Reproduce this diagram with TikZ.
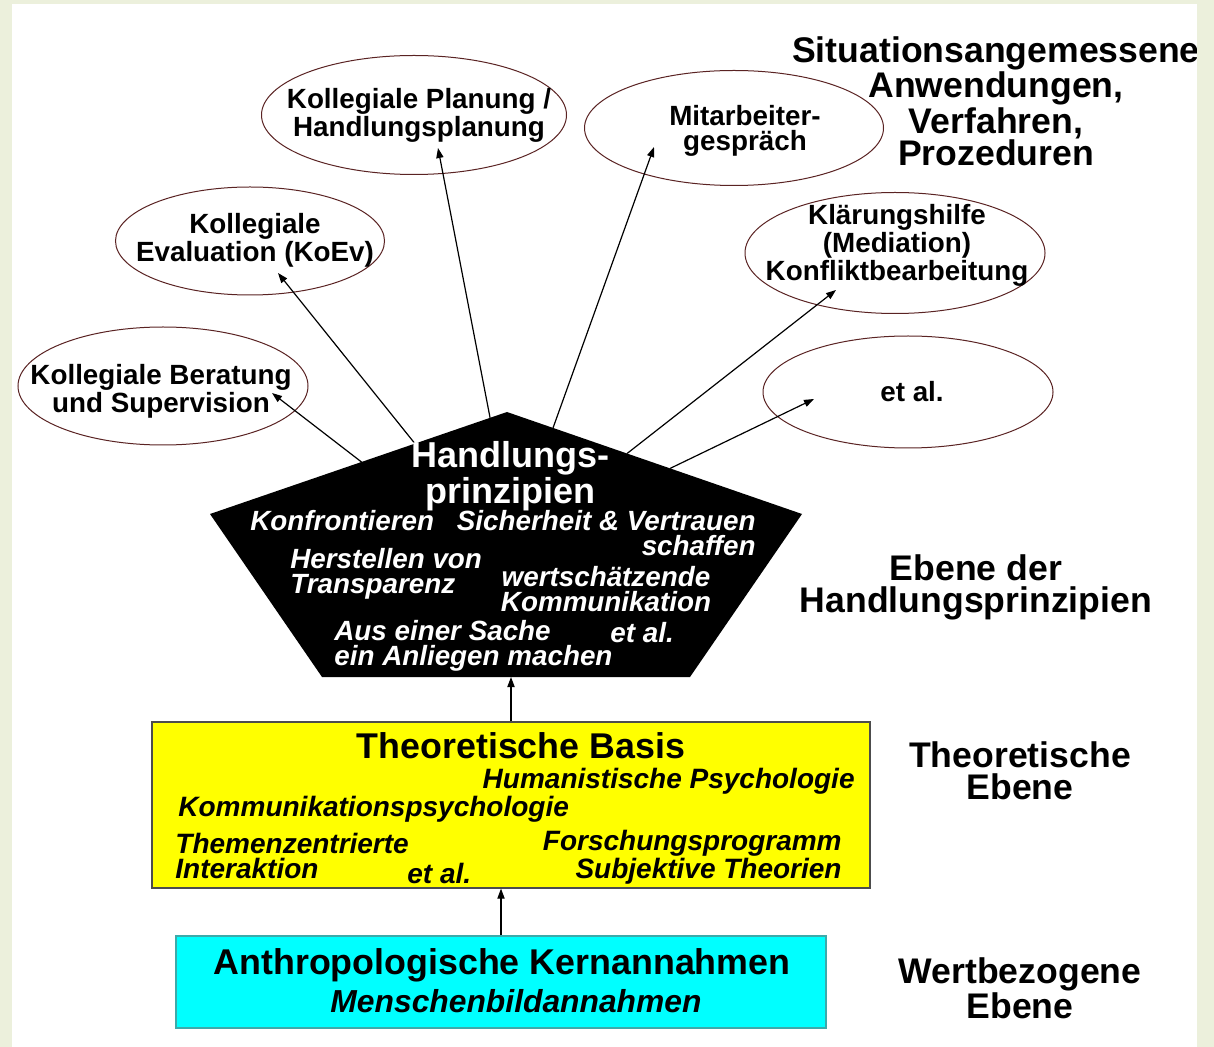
\documentclass[tikz,border=0pt]{standalone}
\usepackage{fontspec}
\setmainfont{Liberation Sans}
\usetikzlibrary{shapes.geometric,arrows.meta,calc}
\definecolor{framegreen}{RGB}{236,240,220}
\definecolor{bubbleline}{RGB}{90,35,35}
\definecolor{boxyellow}{RGB}{255,255,0}
\definecolor{boxcyan}{RGB}{0,255,255}
\definecolor{cyanline}{RGB}{60,170,170}

\begin{document}
\begin{tikzpicture}[x=0.5pt, y=-0.5pt,
  bubble/.style={ellipse, draw=bubbleline, line width=0.5pt, inner sep=0pt},
  bubble text/.style={align=center, inner sep=0pt, font=\bfseries\fontsize{13.9}{12.2}\selectfont},
  level text/.style={align=center, inner sep=0pt, font=\bfseries\fontsize{17.8}{16}\selectfont},
  item/.style={text=white, inner sep=0pt, font=\bfseries\itshape\fontsize{13.9}{12.4}\selectfont},
  basis item/.style={inner sep=0pt, font=\bfseries\itshape\fontsize{14}{12.5}\selectfont},
  link/.style={-{Triangle[length=5pt,width=3.6pt]}, line width=0.6pt}]
\useasboundingbox (0,0) rectangle (1214,1047);
\fill[framegreen] (0,0) rectangle (1214,1047);
\fill[white] (12,4) rectangle (1197,1047);

% bubbles
\node[bubble, minimum width=145pt, minimum height=59pt] (e1) at (163,386) {};
\node[bubble, minimum width=134.5pt, minimum height=54pt] (e2) at (250,241) {};
\node[bubble, minimum width=152.5pt, minimum height=59.5pt] (e3) at (414,115) {};
\node[bubble, minimum width=149.5pt, minimum height=57.5pt] (e4) at (734,128) {};
\node[bubble, minimum width=150pt, minimum height=60.5pt] (e5) at (895,253) {};
\node[bubble, minimum width=145pt, minimum height=56pt] (e6) at (908,392) {};
\node[bubble text] (t1) at (161,391) {Kollegiale Beratung\\und Supervision};
\node[bubble text] (t2) at (255,240) {Kollegiale\\Evaluation (KoEv)};
\node[bubble text] (t3) at (419,115) {Kollegiale Planung /\\Handlungsplanung};
\node[bubble text] (t4) at (745,131) {Mitarbeiter-\\gespräch};
\node[bubble text] (t5) at (897,245) {Klärungshilfe\\(Mediation)\\Konfliktbearbeitung};
\node[bubble text] (t6) at (912,392) {et al.};

% pentagon
\coordinate (p1) at (507,412);
\coordinate (p2) at (802,514);
\coordinate (p3) at (690,677);
\coordinate (p4) at (322,677);
\coordinate (p5) at (210,514);
\fill[black] (p1) -- (p2) -- (p3) -- (p4) -- (p5) -- cycle;

\coordinate (a1) at (272,393);
\coordinate (a2) at (278,273);
\coordinate (a3) at (438,148);
\coordinate (a4) at (654,147);
\coordinate (a5) at (836,290);
\coordinate (a6) at (814,399);
\draw[link] ($(p1)!0.49!(p5)$) -- (a1);
\draw[link] ($(p1)!0.31!(p5)$) -- (a2);
\draw[link] ($(p1)!0.057!(p5)$) -- (a3);
\draw[link] ($(p1)!0.156!(p2)$) -- (a4);
\draw[link] ($(p1)!0.407!(p2)$) -- (a5);
\draw[link] ($(p1)!0.553!(p2)$) -- (a6);

\node[align=center, text=white, inner sep=0pt, font=\bfseries\fontsize{18}{15.8}\selectfont] (hp) at (510,476) {Handlungs-\\prinzipien};
\node[item, anchor=west] (h1) at (250,521) {Konfrontieren};
\node[item, anchor=east, align=right] (h2) at (756,533) {Sicherheit \& Vertrauen\\schaffen};
\node[item, anchor=west, align=left] (h3) at (290,574) {Herstellen von\\Transparenz};
\node[item, align=center] (h4) at (606,589) {wertschätzende\\Kommunikation};
\node[item, anchor=west, align=left] (h5) at (334,646) {Aus einer Sache\\ein Anliegen machen};
\node[item, anchor=west] (h6) at (610,633) {et al.};

% theory box
\node[draw=gray!60!black, fill=boxyellow, line width=0.6pt, minimum width=359pt, minimum height=83pt, inner sep=0pt] (theo) at (511,805) {};
\node[inner sep=0pt, font=\bfseries\fontsize{17.9}{16}\selectfont] (tb) at (521,746) {Theoretische Basis};
\node[basis item, anchor=east] (b1) at (855,781) {Humanistische Psychologie};
\node[basis item, anchor=west] (b2) at (178,809) {Kommunikationspsychologie};
\node[basis item, anchor=west, align=left] (b3) at (175,856) {Themenzentrierte\\Interaktion};
\node[basis item, anchor=west] (b4) at (407,873) {et al.};
\node[basis item, anchor=east, align=right] (b5) at (842,857) {Forschungsprogramm\\Subjektive Theorien};

% anthropology box
\node[draw=cyanline, fill=boxcyan, line width=0.6pt, minimum width=325pt, minimum height=46pt, inner sep=0pt] (anth) at (501,982) {};
\node[inner sep=0pt, font=\bfseries\fontsize{17.9}{16}\selectfont] (an1) at (502,965) {Anthropologische Kernannahmen};
\node[inner sep=0pt, font=\bfseries\itshape\fontsize{15.9}{16}\selectfont] (an2) at (516,1001) {Menschenbildannahmen};

\draw[link] (theo.north) -- (theo.north |- p4);
\draw[link] (anth.north) -- (anth.north |- theo.south);

% levels
\node[level text] (l1) at (996,101) {Situationsangemessene\\Anwendungen,\\Verfahren,\\Prozeduren};
\node[level text] (l2) at (976,587) {Ebene der\\Handlungsprinzipien};
\node[level text] (l3) at (1020,771) {Theoretische\\Ebene};
\node[level text] (l4) at (1020,988) {Wertbezogene\\Ebene};

\fill[framegreen] (1197,0) rectangle (1214,1047);
\fill[framegreen] (0,0) rectangle (1214,4);
\end{tikzpicture}
\end{document}
